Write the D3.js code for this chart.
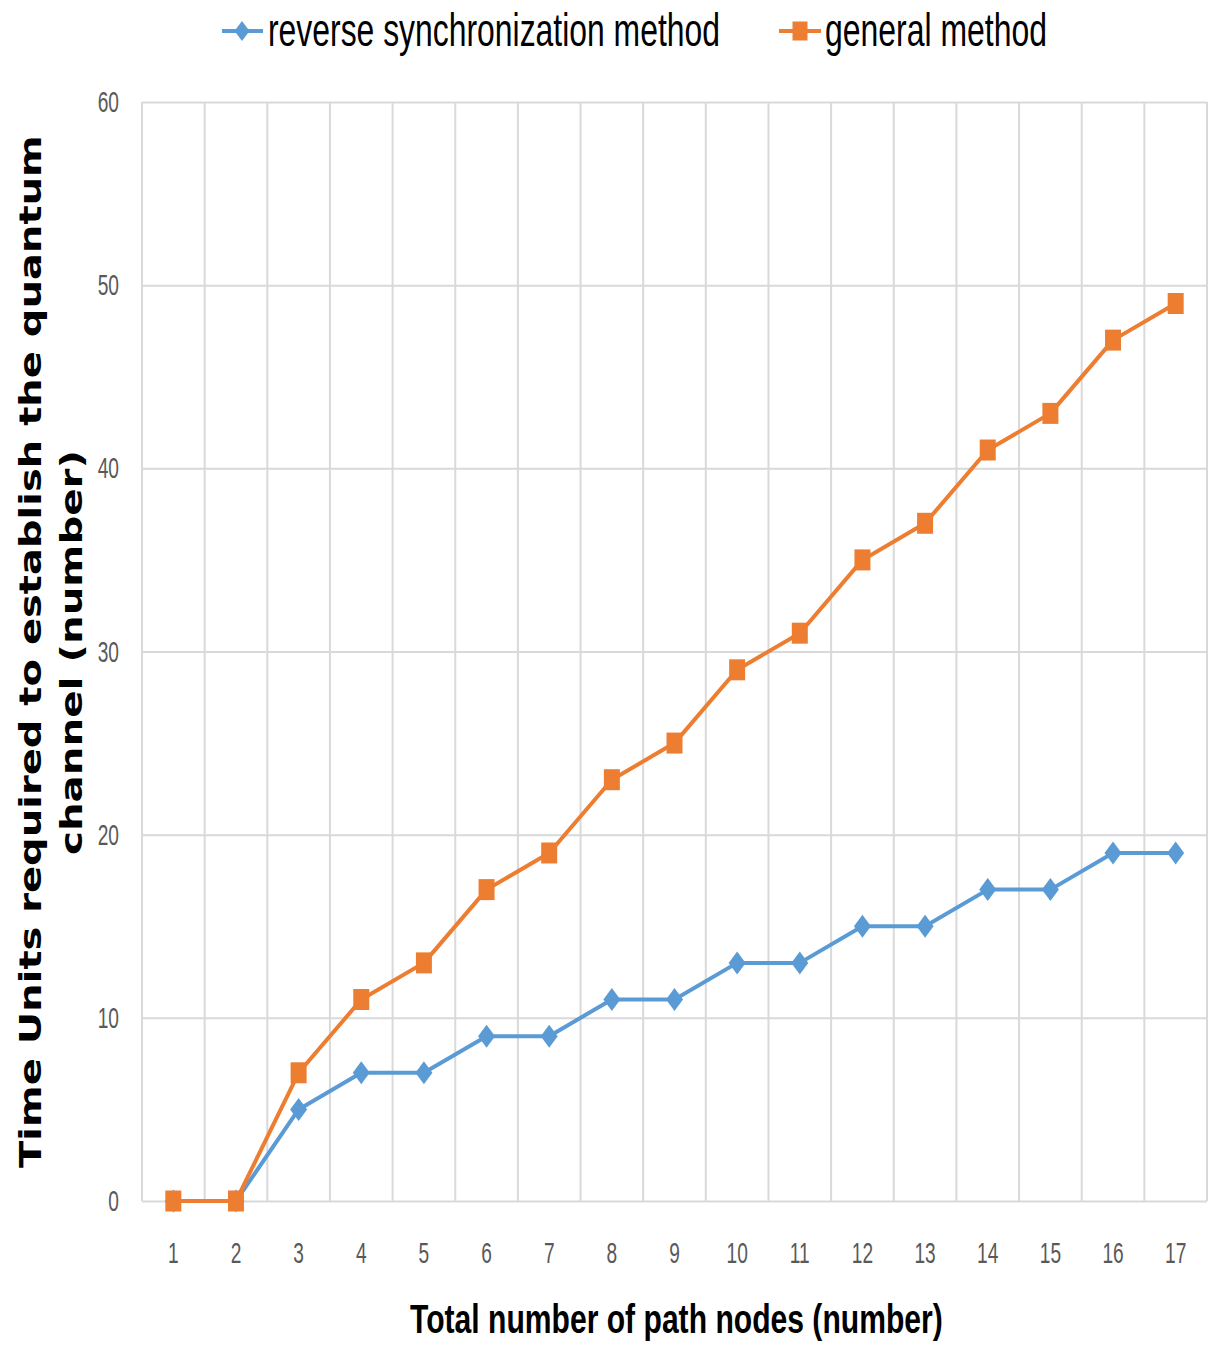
<!DOCTYPE html>
<html>
<head>
<meta charset="utf-8">
<script src="https://cdn.jsdelivr.net/npm/d3@7"></script>
<style>
  html, body { margin: 0; padding: 0; background: #fff; }
  svg { display: block; }
</style>
</head>
<body>
<svg id="chart" width="1209" height="1346"></svg>
<script>
// Path node counts along the x axis
const categories = ["1","2","3","4","5","6","7","8","9","10","11","12","13","14","15","16","17"];
// Time units needed to set up the quantum channel
const reverseSync = [0,0,5,7,7,9,9,11,11,13,13,15,15,17,17,19,19];
const generalMethod = [0,0,7,11,13,17,19,23,25,29,31,35,37,41,43,47,49];
const yTicks = [0,10,20,30,40,50,60];
const seriesNames = ["reverse synchronization method", "general method"];

const BLUE = "#5b9bd5", ORANGE = "#ed7d31", GRID = "#d9d9d9", TICK = "#595959";
const SANS = "'Liberation Sans', Arial, sans-serif";

const svg = d3.select("#chart");

const x = d3.scaleBand().domain(categories).range([142, 1207]).padding(0);
const y = d3.scaleLinear().domain([0, 60]).range([1201, 102]);
const cx = c => x(c) + x.bandwidth() / 2;

// horizontal grid from the y ticks
svg.append("g")
  .attr("transform", "translate(142,0)")
  .call(d3.axisLeft(y).tickValues(yTicks).tickSize(-(1207 - 142)).tickFormat(""))
  .call(g => g.select(".domain").remove())
  .call(g => g.selectAll("line").attr("stroke", GRID).attr("stroke-width", 2));

// vertical grid at every band edge
const edges = categories.map(c => x(c)).concat([x.range()[1]]);
svg.append("g").selectAll("line").data(edges).join("line")
  .attr("x1", d => d).attr("x2", d => d)
  .attr("y1", y(60)).attr("y2", y(0))
  .attr("stroke", GRID).attr("stroke-width", 2);

// narrow text: squeezed horizontally by a fixed factor
function narrowText(parent, str, px, py, opts) {
  return parent.append("text")
    .attr("transform", `translate(${px},${py}) scale(${opts.sx},1)`)
    .attr("text-anchor", opts.anchor || "middle")
    .attr("font-family", opts.family || SANS)
    .attr("font-size", opts.size)
    .attr("font-weight", opts.weight || "normal")
    .attr("fill", opts.fill || "#000")
    .text(str);
}

// text fitted to a given run length (start anchored), optional rotation
function fittedText(parent, str, px, py, len, opts) {
  const t = parent.append("text")
    .attr("font-family", opts.family || SANS)
    .attr("font-size", opts.size)
    .attr("font-weight", opts.weight || "normal")
    .attr("fill", opts.fill || "#000")
    .text(str);
  const natural = t.node().getComputedTextLength();
  const s = len / natural;
  t.attr("transform", `translate(${px},${py}) rotate(${opts.rotate || 0}) scale(${s},1)`);
  return t;
}

// y tick labels
const yl = svg.append("g");
yTicks.forEach(v => narrowText(yl, String(v), 119, y(v) + 10, {sx: 0.66, size: 29, anchor: "end", fill: TICK}));

// x tick labels
const xl = svg.append("g");
categories.forEach(c => narrowText(xl, c, cx(c), 1263, {sx: 0.66, size: 29, fill: TICK}));

// marker shapes
function diamondPath(w, h) {
  return `M0,${-h/2}L${w/2},0L0,${h/2}L${-w/2},0Z`;
}
function squarePath(w, h) {
  return `M${-w/2},${-h/2}H${w/2}V${h/2}H${-w/2}Z`;
}

const line = d3.line().x((d, i) => cx(categories[i])).y(d => y(d));

function drawSeries(values, color, shape) {
  const g = svg.append("g");
  g.append("path").datum(values)
    .attr("d", line)
    .attr("fill", "none").attr("stroke", color).attr("stroke-width", 4)
    .attr("stroke-linejoin", "round");
  g.selectAll("path.m").data(values).join("path")
    .attr("class", "m")
    .attr("transform", (d, i) => `translate(${cx(categories[i])},${y(d)})`)
    .attr("d", shape)
    .attr("fill", color);
}

drawSeries(reverseSync, BLUE, diamondPath(17, 23));
drawSeries(generalMethod, ORANGE, squarePath(16, 21));

// legend
const lg = svg.append("g");
lg.append("line").attr("x1", 222).attr("x2", 263).attr("y1", 31).attr("y2", 31).attr("stroke", BLUE).attr("stroke-width", 4);
lg.append("path").attr("transform", "translate(242,31)").attr("d", diamondPath(15, 20)).attr("fill", BLUE);
fittedText(lg, seriesNames[0], 268, 46, 452, {size: 47});
lg.append("line").attr("x1", 779).attr("x2", 821).attr("y1", 31).attr("y2", 31).attr("stroke", ORANGE).attr("stroke-width", 4);
lg.append("path").attr("transform", "translate(800,31)").attr("d", squarePath(15, 19)).attr("fill", ORANGE);
fittedText(lg, seriesNames[1], 825, 46, 222, {size: 47});

// x axis title
fittedText(svg, "Total number of path nodes (number)", 410, 1333, 533, {size: 41, weight: "bold"});

// y axis title, two rotated lines
const yfam = "'DejaVu Sans', Verdana, sans-serif";
fittedText(svg, "Time Units required to establish  the quantum", 41, 1168, 1033, {size: 31, weight: "bold", family: yfam, rotate: -90});
fittedText(svg, "channel  (number)", 82, 855, 405, {size: 31, weight: "bold", family: yfam, rotate: -90});
</script>
</body>
</html>
